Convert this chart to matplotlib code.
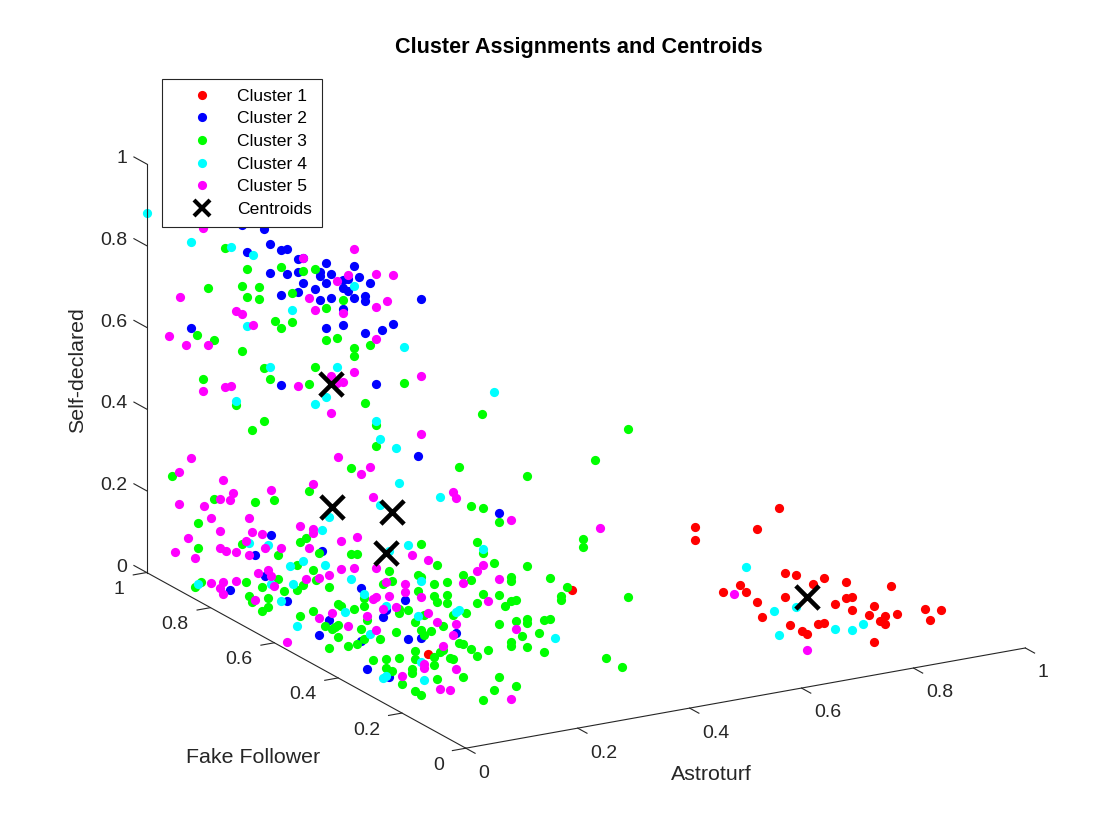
import matplotlib
matplotlib.use('Agg')
import matplotlib.pyplot as plt
from matplotlib.lines import Line2D

plt.rcParams['font.family'] = ['Liberation Sans', 'DejaVu Sans']

# (Astroturf, Fake Follower, Self-declared) per point
cluster1 = [
    (0, 0.12, 0.18), (0.19, 0, 0.34), (0.56, 0, 0.45), (0.41, 0, 0.44), (0.41, 0, 0.41),
    (0.52, 0, 0.41), (0.49, 0, 0.28), (0.46, 0, 0.27), (0.50, 0, 0.26), (0.57, 0, 0.29),
    (0.59, 0, 0.28), (0.57, 0, 0.23), (0.52, 0, 0.23), (0.53, 0, 0.19), (0.62, 0, 0.25),
    (0.64, 0, 0.26), (0.68, 0, 0.24), (0.76, 0, 0.21), (0.68, 0, 0.20), (0.69, 0, 0.20),
    (0.66, 0, 0.19), (0.69, 0, 0.17), (0.73, 0, 0.17), (0.72, 0, 0.15), (0.75, 0, 0.14),
    (0.77, 0, 0.14), (0.74, 0, 0.13), (0.75, 0, 0.12), (0.82, 0, 0.14), (0.85, 0, 0.13),
    (0.83, 0, 0.11), (0.58, 0, 0.16), (0.60, 0, 0.14), (0.61, 0, 0.13), (0.63, 0, 0.15),
    (0.64, 0, 0.15), (0.73, 0, 0.08),
]
cluster2 = [
    (0.17, 1, 0.81), (0.21, 1, 0.79), (0.22, 1, 0.75), (0.18, 1, 0.74), (0.24, 1, 0.73),
    (0.25, 1, 0.73), (0.27, 1, 0.70), (0.28, 1, 0.70), (0.22, 1, 0.68), (0.25, 1, 0.67),
    (0.27, 1, 0.67), (0.28, 1, 0.64), (0.24, 1, 0.62), (0.27, 1, 0.62), (0.30, 1, 0.62),
    (0.31, 1, 0.59), (0.08, 1, 0.58), (0.32, 1, 0.68), (0.31, 1, 0.66), (0.31, 1, 0.65),
    (0.33, 1, 0.65), (0.32, 1, 0.63), (0.37, 1, 0.66), (0.38, 1, 0.63), (0.36, 1, 0.63),
    (0.35, 1, 0.63), (0.40, 1, 0.61), (0.35, 1, 0.61), (0.36, 1, 0.60), (0.37, 1, 0.58),
    (0.39, 1, 0.58), (0.39, 1, 0.57), (0.33, 1, 0.59), (0.49, 1, 0.55), (0.35, 1, 0.56),
    (0.32, 1, 0.52), (0.35, 1, 0.52), (0.39, 1, 0.49), (0.42, 1, 0.49), (0.44, 1, 0.50),
    (0.24, 1, 0.40), (0.41, 1, 0.36), (0, 0.15, 0.65), (0, 0.61, 0.26), (0, 0.66, 0.19),
    (0, 0.63, 0.15), (0, 0.74, 0.07), (0, 0.56, 0.12), (0, 0.46, 0.08), (0, 0.45, 0.29),
    (0, 0.33, 0.25), (0, 0.19, 0.28), (0, 0.25, 0.23), (0, 0.26, 0.21), (0, 0.43, 0.13),
    (0, 0.33, 0.12), (0, 0.18, 0.19), (0, 0.14, 0.21), (0, 0.03, 0.27), (0, 0.31, 0.06),
    (0, 0.24, 0.07), (0.06, 0, 0.56),
]
cluster3 = [
    (0.14, 1, 0.76), (0.18, 1, 0.70), (0.24, 1, 0.69), (0.28, 1, 0.67), (0.30, 1, 0.67),
    (0.11, 1, 0.67), (0.17, 1, 0.66), (0.20, 1, 0.65), (0.26, 1, 0.62), (0.18, 1, 0.63),
    (0.20, 1, 0.62), (0.23, 1, 0.56), (0.24, 1, 0.54), (0.26, 1, 0.55), (0.09, 1, 0.56),
    (0.12, 1, 0.54), (0.17, 1, 0.50), (0.21, 1, 0.45), (0.30, 1, 0.43), (0.10, 1, 0.45),
    (0.22, 1, 0.42), (0.32, 1, 0.57), (0.35, 1, 0.58), (0.32, 1, 0.49), (0.34, 1, 0.49),
    (0.40, 1, 0.46), (0.37, 1, 0.46), (0.37, 1, 0.44), (0.29, 1, 0.39), (0.16, 1, 0.37),
    (0.21, 1, 0.32), (0.46, 1, 0.35), (0.39, 1, 0.32), (0.41, 1, 0.26), (0.60, 1, 0.24),
    (0.86, 1, 0.14),
    (0, 0.67, 0.49), (0, 0.92, 0.27), (0, 0.49, 0.42), (0, 0.60, 0.35), (0, 0.79, 0.27),
    (0, 0.66, 0.32), (0, 0.84, 0.19), (0, 0.50, 0.30), (0, 0.52, 0.28), (0, 0.70, 0.20),
    (0, 0.84, 0.13), (0, 0.28, 0.62), (0, 0.36, 0.53), (0, 0.02, 0.68), (0.01, 0, 0.59),
    (0.03, 0, 0.58), (0, 0.14, 0.44), (0.02, 0, 0.50), (0, 0.59, 0.22), (0, 0.46, 0.28),
    (0, 0.53, 0.22), (0, 0.48, 0.23), (0, 0.59, 0.16), (0, 0.47, 0.21), (0, 0.69, 0.11),
    (0, 0.83, 0.05), (0, 0.85, 0.03), (0, 0.64, 0.12), (0, 0.53, 0.16), (0, 0.51, 0.18),
    (0, 0.57, 0.14), (0, 0.68, 0.08), (0, 0.62, 0.10), (0, 0.62, 0.08), (0, 0.64, 0.06),
    (0, 0.67, 0.07), (0, 0.48, 0.13), (0, 0.52, 0.10), (0, 0.36, 0.32), (0, 0.34, 0.33),
    (0, 0.09, 0.41), (0.03, 0, 0.47), (0, 0.24, 0.33), (0, 0.23, 0.31), (0, 0.26, 0.29),
    (0, 0.43, 0.21), (0, 0.32, 0.23), (0, 0.14, 0.36), (0, 0.15, 0.36), (0, 0.10, 0.36),
    (0, 0.06, 0.38), (0, 0.01, 0.42), (0.01, 0, 0.41), (0, 0.15, 0.32), (0, 0.10, 0.33),
    (0, 0.09, 0.32), (0, 0.06, 0.35), (0, 0.06, 0.33), (0.02, 0, 0.35), (0.03, 0, 0.37),
    (0, 0.21, 0.24), (0, 0.21, 0.25), (0, 0.18, 0.26), (0, 0.40, 0.18), (0, 0.39, 0.18),
    (0, 0.35, 0.19), (0, 0.32, 0.21), (0, 0.31, 0.18), (0, 0.44, 0.11), (0, 0.42, 0.11),
    (0, 0.41, 0.12), (0, 0.40, 0.13), (0, 0.13, 0.27), (0, 0.16, 0.24), (0, 0.07, 0.27),
    (0, 0.04, 0.31), (0, 0.00, 0.33), (0, 0.14, 0.23), (0, 0.11, 0.24), (0, 0.13, 0.22),
    (0, 0.40, 0.10), (0, 0.33, 0.15), (0, 0.32, 0.13), (0, 0.27, 0.15), (0, 0.22, 0.19),
    (0, 0.02, 0.25), (0, 0.01, 0.25), (0, 0.43, 0.06), (0, 0.37, 0.09), (0, 0.34, 0.11),
    (0, 0.08, 0.20), (0, 0.07, 0.21), (0, 0.16, 0.17), (0, 0.10, 0.18), (0.01, 0, 0.24),
    (0.04, 0, 0.23), (0.02, 0, 0.22), (0, 0.29, 0.09), (0, 0.25, 0.11), (0, 0.21, 0.13),
    (0, 0.16, 0.15), (0, 0.05, 0.20), (0, 0.04, 0.20), (0, 0.10, 0.16), (0, 0.25, 0.09),
    (0, 0.23, 0.09), (0, 0.17, 0.12), (0, 0.17, 0.11), (0, 0.09, 0.13), (0, 0.01, 0.17),
    (0, 0.20, 0.07), (0, 0.16, 0.07), (0, 0.14, 0.07), (0.03, 0, 0.11),
    (0.11, 0, 0.64), (0.23, 0, 0.65), (0.06, 0, 0.54), (0.21, 0, 0.46), (0.21, 0, 0.44),
    (0.05, 0, 0.44), (0.11, 0, 0.42), (0.15, 0, 0.38), (0.08, 0, 0.40), (0.08, 0, 0.39),
    (0.18, 0, 0.35), (0.17, 0, 0.33), (0.17, 0, 0.32), (0.29, 0, 0.30), (0.06, 0, 0.36),
    (0.08, 0, 0.34), (0.09, 0, 0.34), (0.07, 0, 0.33), (0.11, 0, 0.29), (0.09, 0, 0.29),
    (0.11, 0, 0.28), (0.14, 0, 0.28), (0.15, 0, 0.28), (0.06, 0, 0.29), (0.13, 0, 0.25),
    (0.10, 0, 0.25), (0.08, 0, 0.24), (0.08, 0, 0.23), (0.11, 0, 0.22), (0.14, 0, 0.20),
    (0.25, 0, 0.16), (0.28, 0, 0.13), (0.06, 0, 0.16), (0.09, 0, 0.13), (0.05, 0, 0.13),
]
cluster4 = [
    (0, 1, 0.88), (0.08, 1, 0.79), (0.15, 1, 0.76), (0.19, 1, 0.73), (0.26, 1, 0.58),
    (0.18, 1, 0.56), (0.22, 1, 0.45), (0.37, 1, 0.61), (0.46, 1, 0.44), (0.34, 1, 0.42),
    (0.16, 1, 0.38), (0.30, 1, 0.34), (0.32, 1, 0.35), (0.41, 1, 0.27), (0.62, 1, 0.29),
    (0, 0.27, 0.64), (0, 0.22, 0.64), (0, 0.21, 0.56), (0, 0.27, 0.48), (0, 0.08, 0.58),
    (0, 0.43, 0.38), (0, 0.45, 0.34), (0, 0.18, 0.42), (0.03, 0, 0.48), (0, 0.68, 0.21),
    (0, 0.62, 0.23), (0, 0.55, 0.21), (0, 0.51, 0.24), (0, 0.84, 0.04), (0, 0.61, 0.14),
    (0, 0.54, 0.17), (0, 0.58, 0.11), (0, 0.53, 0.07), (0, 0.24, 0.38), (0, 0.44, 0.26),
    (0, 0.36, 0.26), (0, 0.32, 0.24), (0, 0.14, 0.35), (0, 0.25, 0.24), (0, 0.38, 0.17),
    (0, 0.15, 0.26), (0, 0.02, 0.33), (0, 0.03, 0.32), (0, 0.30, 0.15), (0, 0.14, 0.15),
    (0, 0.26, 0.06), (0, 0.25, 0.07), (0, 0.13, 0.11), (0.16, 0, 0.23), (0.50, 0, 0.32),
    (0.55, 0, 0.20), (0.59, 0, 0.20), (0.56, 0, 0.14), (0.66, 0, 0.13), (0.69, 0, 0.12),
    (0.71, 0, 0.13),
]
cluster5 = [
    (0.10, 1, 0.82), (0.28, 1, 0.70), (0.06, 1, 0.66), (0.29, 1, 0.60), (0.30, 1, 0.57),
    (0.16, 1, 0.60), (0.17, 1, 0.59), (0.19, 1, 0.56), (0.04, 1, 0.57), (0.07, 1, 0.54),
    (0.11, 1, 0.53), (0.37, 1, 0.70), (0.41, 1, 0.63), (0.44, 1, 0.62), (0.36, 1, 0.64),
    (0.34, 1, 0.63), (0.43, 1, 0.56), (0.41, 1, 0.55), (0.35, 1, 0.55), (0.41, 1, 0.47),
    (0.33, 1, 0.40), (0.37, 1, 0.40), (0.49, 1, 0.36), (0.10, 1, 0.42), (0.14, 1, 0.42),
    (0.15, 1, 0.42), (0.27, 1, 0.39), (0.35, 1, 0.38), (0.34, 1, 0.38), (0.33, 1, 0.31),
    (0, 0.14, 0.71), (0, 0.40, 0.54), (0, 0.33, 0.53), (0, 0.30, 0.56), (0, 0.48, 0.44),
    (0, 0.29, 0.49), (0, 0.04, 0.61), (0, 0.03, 0.60), (0, 0.48, 0.33), (0, 0.48, 0.32),
    (0, 0.39, 0.34), (0, 0.34, 0.37), (0, 0.86, 0.34), (0, 0.90, 0.29), (0, 0.76, 0.33),
    (0, 0.61, 0.37), (0, 0.73, 0.31), (0, 0.74, 0.29), (0, 0.77, 0.28), (0, 0.82, 0.24),
    (0, 0.90, 0.21), (0, 0.80, 0.22), (0, 0.68, 0.27), (0, 0.77, 0.20), (0, 0.67, 0.24),
    (0, 0.64, 0.25), (0, 0.52, 0.32), (0, 0.69, 0.21), (0, 0.87, 0.14), (0, 0.77, 0.16),
    (0, 0.58, 0.24), (0, 0.49, 0.28), (0, 0.91, 0.09), (0, 0.85, 0.10), (0, 0.75, 0.16),
    (0, 0.72, 0.17), (0, 0.68, 0.18), (0, 0.63, 0.22), (0, 0.65, 0.15), (0, 0.62, 0.17),
    (0, 0.61, 0.16), (0, 0.50, 0.20), (0, 0.80, 0.06), (0, 0.76, 0.08), (0, 0.72, 0.10),
    (0, 0.77, 0.06), (0, 0.76, 0.05), (0, 0.60, 0.14), (0, 0.66, 0.08), (0, 0.46, 0.12),
    (0, 0.56, 0.02), (0, 0.17, 0.40), (0, 0.12, 0.41), (0.02, 0, 0.43), (0.03, 0, 0.44),
    (0, 0.46, 0.22), (0, 0.43, 0.24), (0, 0.39, 0.27), (0, 0.35, 0.29), (0, 0.28, 0.32),
    (0, 0.25, 0.30), (0, 0.19, 0.32), (0, 0.19, 0.30), (0, 0.01, 0.40), (0, 0.14, 0.31),
    (0.04, 0, 0.35), (0, 0.24, 0.27), (0, 0.28, 0.25), (0, 0.29, 0.24), (0, 0.22, 0.25),
    (0, 0.26, 0.23), (0, 0.42, 0.15), (0, 0.31, 0.19), (0, 0.37, 0.14), (0, 0.12, 0.28),
    (0, 0.09, 0.27), (0, 0.28, 0.17), (0, 0.03, 0.29), (0, 0.04, 0.26), (0, 0.07, 0.22),
    (0, 0.13, 0.15), (0, 0.13, 0.14), (0, 0.03, 0.18), (0, 0.20, 0.09), (0, 0.08, 0.11),
    (0, 0.05, 0.12), (0.08, 0, 0.54), (0.24, 0, 0.48), (0.06, 0, 0.40), (0.09, 0, 0.27),
    (0.08, 0, 0.10), (0.48, 0, 0.26), (0.61, 0, 0.09),
]
centroids = [(0.33, 1, 0.38), (0, 0.42, 0.41), (0, 0.23, 0.48), (0, 0.25, 0.37), (0.61, 0, 0.22)]

cluster_names = ['Cluster 1', 'Cluster 2', 'Cluster 3', 'Cluster 4', 'Cluster 5']
cluster_colors = ['#ff0000', '#0000ff', '#00ff00', '#00ffff', '#ff00ff']
ticks = [0, 0.2, 0.4, 0.6, 0.8, 1]
tick_labels = ['0', '0.2', '0.4', '0.6', '0.8', '1']

fig = plt.figure(figsize=(11.2, 8.4), dpi=100)
W = 978  # side of the square 3d axes, pixels (box must not be clipped)
ax = fig.add_axes([(586 - 0.5135 * W) / 1120, (434 - 0.5135 * W) / 840, W / 1120, W / 840],
                  projection='3d', proj_type='ortho', computed_zorder=False)
ax.set_box_aspect((1, 1, 0.668))
ax.view_init(elev=18.3, azim=-119.7)
ax.set_xlim(0, 1)
ax.set_ylim(0, 1)
ax.set_zlim(0, 1)
ax.set_xticks([])
ax.set_yticks([])
ax.set_zticks([])
ax.set_axis_off()
# the built-in (empty) title and axis label texts are not used
for t in (ax.title, ax._left_title, ax._right_title):
    t.set_visible(False)
for a in (ax.xaxis, ax.yaxis, ax.zaxis):
    a.label.set_visible(False)
    a.offsetText.set_visible(False)

# axis lines, ticks and tick labels drawn MATLAB style
axc = '#262626'
ax.plot([0, 1], [0, 0], [0, 0], color=axc, lw=0.8)
ax.plot([0, 0], [0, 1], [0, 0], color=axc, lw=0.8)
ax.plot([0, 0], [1, 1], [0, 1], color=axc, lw=0.8)
for t, lab in zip(ticks, tick_labels):
    ax.plot([t, t], [0, -0.029], [0, 0], color=axc, lw=0.8)
    ax.plot([0, -0.024], [t, t], [0, 0], color=axc, lw=0.8)
    ax.plot([0, 0], [1, 1.04], [t, t], color=axc, lw=0.8)
    ax.text(t - 0.006, -0.05, -0.038, lab, ha='left', va='center', fontsize=14, color=axc)
    ax.text(-0.039, t, -0.032, lab, ha='right', va='center', fontsize=14, color=axc)
    ax.text(0, 1.06, t - 0.013, lab, ha='right', va='center', fontsize=14, color=axc)

ax.text(0.381, -0.1, -0.116, 'Astroturf', ha='center', va='center', fontsize=15.4, color=axc)
ax.text(-0.1, 0.49, -0.21, 'Fake Follower', ha='center', va='center', fontsize=15.4, color=axc)
ax.text(-0.124, 1.0, 0.527, 'Self-declared', zdir='z', ha='center', va='center',
        fontsize=15.4, color=axc)

for pts, col in zip([cluster1, cluster2, cluster3, cluster4, cluster5], cluster_colors):
    xs, ys, zs = zip(*pts)
    ax.scatter(xs, ys, zs, s=44, c=col, linewidths=0, depthshade=False)

cx, cy, cz = zip(*centroids)
ax.scatter(cx, cy, cz, s=280, c='k', marker='x', linewidths=3.3, depthshade=False)

fig.text(579 / 1120, 1 - 47 / 840, 'Cluster Assignments and Centroids',
         ha='center', va='center', fontsize=15.6, fontweight='bold')

handles = [Line2D([], [], ls='none', marker='o', ms=6.6, color=c, mec='none')
           for c in cluster_colors]
handles.append(Line2D([], [], ls='none', marker='x', ms=11.5, mew=3, color='k'))
leg = ax.legend(handles, cluster_names + ['Centroids'], loc='upper left',
                bbox_to_anchor=(162 / 1120, 1 - 79 / 840), bbox_transform=fig.transFigure,
                borderaxespad=0, fontsize=12.6, handlelength=3.45, handletextpad=0.3,
                borderpad=0.55, labelspacing=0.42, fancybox=False, framealpha=1)
leg.get_frame().set_edgecolor('#262626')
leg.get_frame().set_linewidth(0.8)

fig.savefig('out.png', dpi=100)
